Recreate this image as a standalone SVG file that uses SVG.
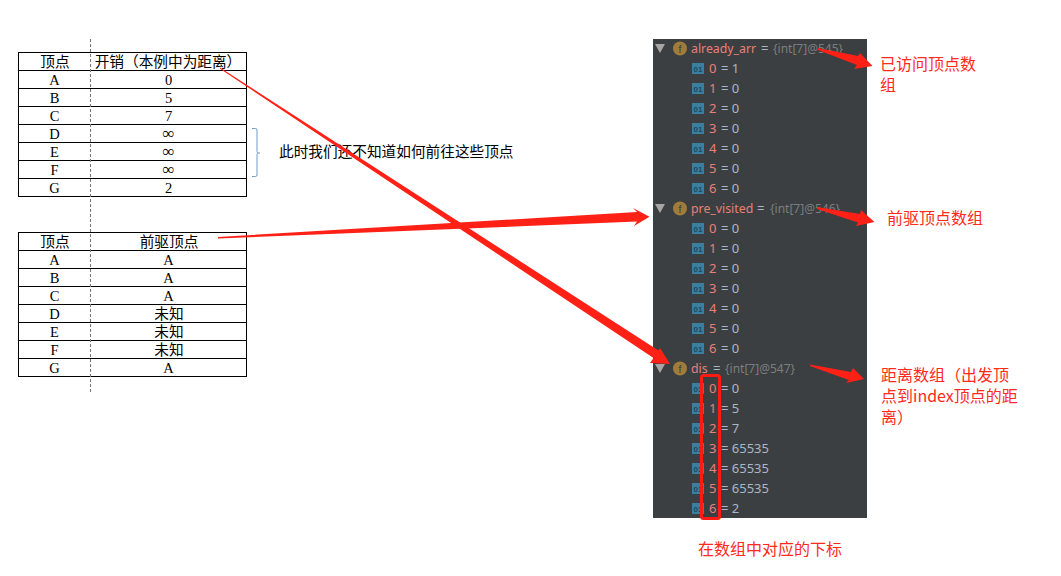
<svg xmlns="http://www.w3.org/2000/svg" width="1061" height="576" viewBox="0 0 1061 576">
<style>
.cell{font-family:"Noto Sans CJK SC","Liberation Serif",sans-serif;font-size:14.67px;fill:#000;text-anchor:middle}
.lat{font-family:"Liberation Serif",serif;font-size:14.5px;fill:#000;text-anchor:middle}
.inf{font-family:"Liberation Serif",serif;font-size:17px;fill:#000;text-anchor:middle}
.ln{stroke:#000;stroke-width:1;fill:none}
.name{font-family:"Noto Sans","Noto Sans CJK SC",sans-serif;font-size:12.3px;fill:#e8807a}
.dig{font-family:"Noto Sans","Noto Sans CJK SC",sans-serif;font-size:13px;fill:#e8807a}
.val{font-family:"Noto Sans","Noto Sans CJK SC",sans-serif;font-size:13px;fill:#a9b7c6}
.ref{font-family:"Noto Sans","Noto Sans CJK SC",sans-serif;font-size:12px;fill:#7a7e80}
.ic{fill:#3a7f9e}
.ict{font-family:"Liberation Sans",sans-serif;font-size:8px;font-weight:bold;fill:#1f4a5e;text-anchor:middle}
.tri{fill:#a6a6a6}
.fc{fill:#a07c3a}
.ft{font-family:"Liberation Sans",sans-serif;font-size:10.5px;fill:#3c3f41;text-anchor:middle}
.note{font-family:"Noto Sans CJK SC",sans-serif;font-size:16px;fill:#ff2a1a}
.ar{fill:#ff2016;stroke:none}
</style>
<g id="table-cost">
<rect class="ln" x="18.5" y="52.5" width="228" height="144"/>
<path class="ln" d="M18.5 70.5H246.500M18.5 88.5H246.500M18.5 106.5H246.500M18.5 124.5H246.500M18.5 142.5H246.500M18.5 160.5H246.500M18.5 178.5H246.500"/>
<text class="cell" x="55" y="66.5">顶点</text><text class="cell" x="168" y="66.5">开销（本例中为距离）</text>
<text class="lat" x="54.500" y="84.500">A</text><text class="lat" x="168.500" y="84.500">0</text>
<text class="lat" x="54.500" y="102.500">B</text><text class="lat" x="168.500" y="102.500">5</text>
<text class="lat" x="54.500" y="120.500">C</text><text class="lat" x="168.500" y="120.500">7</text>
<text class="lat" x="54.500" y="138.500">D</text><text class="inf" x="168.500" y="139">∞</text>
<text class="lat" x="54.500" y="156.500">E</text><text class="inf" x="168.500" y="157">∞</text>
<text class="lat" x="54.500" y="174.500">F</text><text class="inf" x="168.500" y="175">∞</text>
<text class="lat" x="54.500" y="192.500">G</text><text class="lat" x="168.500" y="192.500">2</text>
</g>
<g id="table-prev">
<rect class="ln" x="18.5" y="232.5" width="228" height="144"/>
<path class="ln" d="M18.5 250.5H246.500M18.5 268.5H246.500M18.5 286.5H246.500M18.5 304.5H246.500M18.5 322.5H246.500M18.5 340.5H246.500M18.5 358.5H246.500"/>
<text class="cell" x="55" y="246.5">顶点</text><text class="cell" x="169" y="246.5">前驱顶点</text>
<text class="lat" x="54.500" y="264.500">A</text><text class="lat" x="168.500" y="264.500">A</text>
<text class="lat" x="54.500" y="282.500">B</text><text class="lat" x="168.500" y="282.500">A</text>
<text class="lat" x="54.500" y="300.500">C</text><text class="lat" x="168.500" y="300.500">A</text>
<text class="lat" x="54.500" y="318.500">D</text><text class="cell" x="169" y="319">未知</text>
<text class="lat" x="54.500" y="336.500">E</text><text class="cell" x="169" y="337">未知</text>
<text class="lat" x="54.500" y="354.500">F</text><text class="cell" x="169" y="355">未知</text>
<text class="lat" x="54.500" y="372.500">G</text><text class="lat" x="168.500" y="372.500">A</text>
</g>
<g id="divider"><line x1="90.5" y1="39" x2="90.5" y2="393" stroke="#777" stroke-width="1" stroke-dasharray="3 2"/></g>
<g id="brace"><path d="M252 128.500H255.500Q257 128.500 257 130V151.500Q257 153 258.500 153H260M258.500 153Q257 153 257 154.500V175Q257 176.500 255.500 176.500H252" fill="none" stroke="#6f9bcb" stroke-width="1"/></g>
<g id="brace-note"><text x="279" y="157" font-family="'Noto Sans CJK SC',sans-serif" font-size="14.67" fill="#000">此时我们还不知道如何前往这些顶点</text></g>
<g id="debug-panel">
<rect x="653" y="39" width="214" height="479" fill="#3c3f41"/>
<g id="already-arr">
<path class="tri" d="M655 44H665L660 53Z"/><circle class="fc" cx="680" cy="48.500" r="7"/><text class="ft" x="680" y="52.500">f</text>
<text class="name" x="691" y="53">already_arr</text><text class="val" x="761" y="53">=</text><text class="ref" x="773" y="53">{int[7]@545}</text>
<rect class="ic" x="692" y="63" width="12" height="11"/><text class="ict" x="698" y="71.500">01</text><text class="dig" x="709" y="73">0</text><text class="val" x="721" y="73">= 1</text>
<rect class="ic" x="692" y="83" width="12" height="11"/><text class="ict" x="698" y="91.500">01</text><text class="dig" x="709" y="93">1</text><text class="val" x="721" y="93">= 0</text>
<rect class="ic" x="692" y="103" width="12" height="11"/><text class="ict" x="698" y="111.500">01</text><text class="dig" x="709" y="113">2</text><text class="val" x="721" y="113">= 0</text>
<rect class="ic" x="692" y="123" width="12" height="11"/><text class="ict" x="698" y="131.500">01</text><text class="dig" x="709" y="133">3</text><text class="val" x="721" y="133">= 0</text>
<rect class="ic" x="692" y="143" width="12" height="11"/><text class="ict" x="698" y="151.500">01</text><text class="dig" x="709" y="153">4</text><text class="val" x="721" y="153">= 0</text>
<rect class="ic" x="692" y="163" width="12" height="11"/><text class="ict" x="698" y="171.500">01</text><text class="dig" x="709" y="173">5</text><text class="val" x="721" y="173">= 0</text>
<rect class="ic" x="692" y="183" width="12" height="11"/><text class="ict" x="698" y="191.500">01</text><text class="dig" x="709" y="193">6</text><text class="val" x="721" y="193">= 0</text>
</g>
<g id="pre-visited">
<path class="tri" d="M655 204H665L660 213Z"/><circle class="fc" cx="680" cy="208.500" r="7"/><text class="ft" x="680" y="212.500">f</text>
<text class="name" x="691" y="213">pre_visited</text><text class="val" x="757" y="213">=</text><text class="ref" x="770" y="213">{int[7]@546}</text>
<rect class="ic" x="692" y="223" width="12" height="11"/><text class="ict" x="698" y="231.500">01</text><text class="dig" x="709" y="233">0</text><text class="val" x="721" y="233">= 0</text>
<rect class="ic" x="692" y="243" width="12" height="11"/><text class="ict" x="698" y="251.500">01</text><text class="dig" x="709" y="253">1</text><text class="val" x="721" y="253">= 0</text>
<rect class="ic" x="692" y="263" width="12" height="11"/><text class="ict" x="698" y="271.500">01</text><text class="dig" x="709" y="273">2</text><text class="val" x="721" y="273">= 0</text>
<rect class="ic" x="692" y="283" width="12" height="11"/><text class="ict" x="698" y="291.500">01</text><text class="dig" x="709" y="293">3</text><text class="val" x="721" y="293">= 0</text>
<rect class="ic" x="692" y="303" width="12" height="11"/><text class="ict" x="698" y="311.500">01</text><text class="dig" x="709" y="313">4</text><text class="val" x="721" y="313">= 0</text>
<rect class="ic" x="692" y="323" width="12" height="11"/><text class="ict" x="698" y="331.500">01</text><text class="dig" x="709" y="333">5</text><text class="val" x="721" y="333">= 0</text>
<rect class="ic" x="692" y="343" width="12" height="11"/><text class="ict" x="698" y="351.500">01</text><text class="dig" x="709" y="353">6</text><text class="val" x="721" y="353">= 0</text>
</g>
<g id="dis">
<path class="tri" d="M655 364H665L660 373Z"/><circle class="fc" cx="680" cy="368.500" r="7"/><text class="ft" x="680" y="372.500">f</text>
<text class="name" x="691" y="373">dis</text><text class="val" x="713" y="373">=</text><text class="ref" x="725" y="373">{int[7]@547}</text>
<rect class="ic" x="692" y="383" width="12" height="11"/><text class="ict" x="698" y="391.500">01</text><text class="dig" x="709" y="393">0</text><text class="val" x="721" y="393">= 0</text>
<rect class="ic" x="692" y="403" width="12" height="11"/><text class="ict" x="698" y="411.500">01</text><text class="dig" x="709" y="413">1</text><text class="val" x="721" y="413">= 5</text>
<rect class="ic" x="692" y="423" width="12" height="11"/><text class="ict" x="698" y="431.500">01</text><text class="dig" x="709" y="433">2</text><text class="val" x="721" y="433">= 7</text>
<rect class="ic" x="692" y="443" width="12" height="11"/><text class="ict" x="698" y="451.500">01</text><text class="dig" x="709" y="453">3</text><text class="val" x="721" y="453">= 65535</text>
<rect class="ic" x="692" y="463" width="12" height="11"/><text class="ict" x="698" y="471.500">01</text><text class="dig" x="709" y="473">4</text><text class="val" x="721" y="473">= 65535</text>
<rect class="ic" x="692" y="483" width="12" height="11"/><text class="ict" x="698" y="491.500">01</text><text class="dig" x="709" y="493">5</text><text class="val" x="721" y="493">= 65535</text>
<rect class="ic" x="692" y="503" width="12" height="11"/><text class="ict" x="698" y="511.500">01</text><text class="dig" x="709" y="513">6</text><text class="val" x="721" y="513">= 2</text>
</g>
</g>
<g id="labels">
<text class="note" x="880" y="70">已访问顶点数</text><text class="note" x="880" y="91">组</text>
<text class="note" x="887" y="224">前驱顶点数组</text>
<text class="note" x="881" y="381">距离数组（出发顶</text><text class="note" x="881" y="402">点到index顶点的距</text><text class="note" x="881" y="423">离）</text>
<text class="note" x="698" y="555">在数组中对应的下标</text>
</g>
<g id="connectors">
<polygon class="ar" points="220,67.500 658.500,350.500 660,348 670,364 650,363 653.500,358 220,68.800"/>
<polygon class="ar" points="218,237 637,212 633,208 649.500,216.700 634,226 637,221.500 218,238.500"/>
<polygon class="ar" points="818,48 858,56 860,53 872.500,66 854,69 857,65 818,50"/>
<polygon class="ar" points="817,207 860,214 861,210 874.500,222 856,226 858,222.500 817,209"/>
<polygon class="ar" points="810,364.500 851,372 853,368 864,379 846,383 849,380 810,366"/>
<rect x="701.500" y="375.500" width="18" height="143" rx="2" fill="none" stroke="#ff1a12" stroke-width="3"/>
</g>
</svg>
